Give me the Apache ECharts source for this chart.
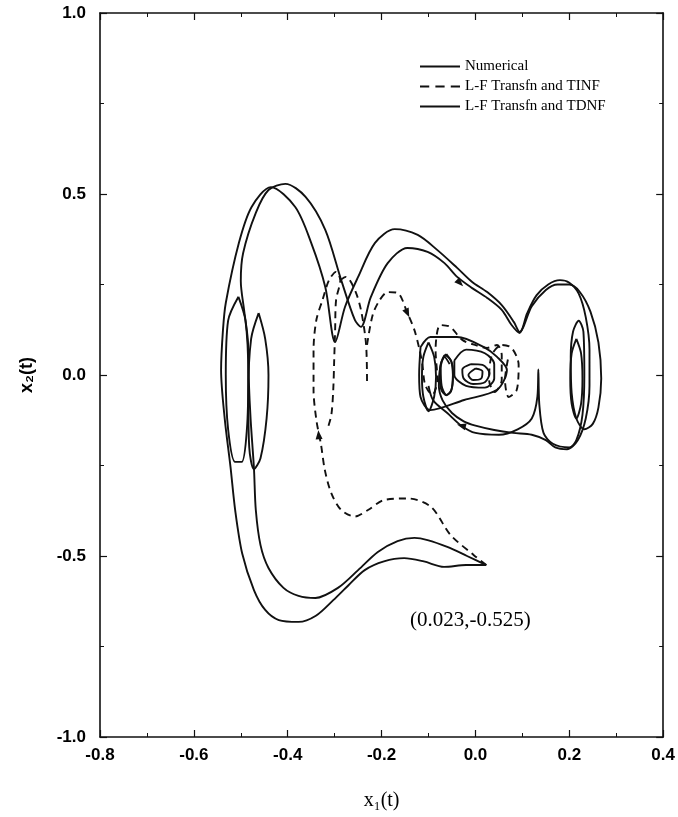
<!DOCTYPE html>
<html><head><meta charset="utf-8">
<script src="https://cdn.jsdelivr.net/npm/echarts@6/dist/echarts.min.js"></script>
<style>html,body{margin:0;padding:0;background:#fff}#c{width:678px;height:817px}</style>
</head><body><div id="c"></div><script>
// ---- tick labels ----
const xTickLabels = ['-0.8','-0.6','-0.4','-0.2','0.0','0.2','0.4'];
const yTickLabels = ['-1.0','-0.5','0.0','0.5','1.0'];
const seriesNames = ['Numerical','L-F Transfn and TINF','L-F Transfn and TDNF'];

// ---- Numerical (solid) ----
const numMain = [[0.023,-0.525],[-0.018,-0.500],[-0.060,-0.475],[-0.102,-0.456],[-0.130,-0.450],[-0.166,-0.459],[-0.208,-0.489],[-0.250,-0.539],[-0.293,-0.588],[-0.341,-0.616],[-0.377,-0.610],[-0.409,-0.588],[-0.441,-0.533],[-0.458,-0.470],[-0.468,-0.373],[-0.472,-0.257],[-0.479,-0.124],[-0.483,-0.014],[-0.485,0.097],[-0.493,0.180],[-0.500,0.260],[-0.495,0.337],[-0.468,0.448],[-0.441,0.511],[-0.405,0.528],[-0.362,0.492],[-0.320,0.401],[-0.286,0.262],[-0.257,0.152],[-0.244,0.133],[-0.223,0.215],[-0.187,0.309],[-0.145,0.351],[-0.102,0.340],[-0.066,0.309],[-0.039,0.271],[-0.007,0.240],[0.025,0.213],[0.056,0.180],[0.077,0.138],[0.094,0.116],[0.110,0.170],[0.130,0.220],[0.155,0.250],[0.180,0.262],[0.200,0.255],[0.220,0.225],[0.235,0.160],[0.243,0.070],[0.243,-0.030],[0.235,-0.120],[0.218,-0.180],[0.195,-0.205],[0.170,-0.200],[0.150,-0.180],[0.120,-0.165],[0.080,-0.160],[0.040,-0.152],[0.000,-0.140],[-0.025,-0.128],[-0.050,-0.105],[-0.070,-0.070],[-0.078,-0.030],[-0.075,0.020],[-0.065,0.055],[-0.052,0.040],[-0.048,0.000],[-0.052,-0.045],[-0.062,-0.055],[-0.072,-0.030],[-0.074,0.020],[-0.066,0.050],[-0.055,0.030]];
const numEllipseLeft1 = [[-0.505,0.216],[-0.490,0.150],[-0.484,0.000],[-0.487,-0.150],[-0.498,-0.240],[-0.512,-0.240],[-0.527,-0.150],[-0.532,0.000],[-0.527,0.150],[-0.505,0.216]];
const numEllipseLeft2 = [[-0.462,0.171],[-0.448,0.100],[-0.441,0.000],[-0.445,-0.120],[-0.458,-0.230],[-0.472,-0.260],[-0.482,-0.200],[-0.484,-0.050],[-0.478,0.100],[-0.462,0.171]];
const numCenterOuter = [[-0.117,0.077],[-0.096,0.105],[-0.039,0.105],[0.018,0.077],[0.046,0.050],[0.067,0.014],[0.046,-0.041],[-0.024,-0.069],[-0.096,-0.097],[-0.117,-0.061],[-0.120,0.000],[-0.117,0.077]];
const numCenterNarrow = [[-0.100,0.090],[-0.088,0.050],[-0.084,-0.005],[-0.088,-0.060],[-0.100,-0.100],[-0.111,-0.060],[-0.114,-0.005],[-0.111,0.050],[-0.100,0.090]];
const numCenterSmall = [[-0.010,0.030],[0.015,0.028],[0.030,0.005],[0.020,-0.020],[-0.005,-0.025],[-0.025,-0.010],[-0.028,0.015],[-0.010,0.030]];
const numCenterTiny = [[0.000,0.018],[0.015,0.010],[0.012,-0.010],[-0.005,-0.014],[-0.015,0.000],[0.000,0.018]];

// ---- L-F Transfn and TINF (dashed) ----
const tinfMain = [[0.023,-0.525],[-0.004,-0.497],[-0.053,-0.442],[-0.095,-0.364],[-0.145,-0.341],[-0.194,-0.345],[-0.229,-0.373],[-0.257,-0.391],[-0.286,-0.373],[-0.307,-0.327],[-0.321,-0.262],[-0.329,-0.193],[-0.339,-0.124],[-0.345,-0.041],[-0.345,0.069],[-0.339,0.152],[-0.326,0.207],[-0.312,0.262],[-0.297,0.285],[-0.288,0.262],[-0.297,0.207],[-0.299,0.124],[-0.301,0.041],[-0.303,-0.041],[-0.307,-0.110],[-0.314,-0.144]];
const tinfPeak2 = [[-0.288,0.262],[-0.276,0.271],[-0.257,0.235],[-0.244,0.180],[-0.233,0.083],[-0.231,-0.028]];
const tinfToCenter = [[-0.231,0.083],[-0.219,0.166],[-0.204,0.207],[-0.187,0.229],[-0.166,0.227],[-0.145,0.171],[-0.130,0.124],[-0.119,0.069],[-0.113,0.028],[-0.107,-0.028],[-0.092,-0.055],[-0.081,-0.014],[-0.085,0.069],[-0.075,0.138],[-0.054,0.133],[-0.028,0.097],[-0.001,0.083],[0.025,0.075],[0.046,0.083],[0.056,0.055],[0.056,-0.014],[0.041,-0.047],[0.029,-0.014],[0.035,0.055],[0.056,0.083],[0.077,0.075],[0.092,0.028],[0.088,-0.041],[0.071,-0.061],[0.063,-0.014],[0.071,0.055]];

// ---- L-F Transfn and TDNF (solid) ----
const tdnfMain = [[0.023,-0.525],[-0.020,-0.525],[-0.067,-0.530],[-0.110,-0.515],[-0.152,-0.506],[-0.195,-0.515],[-0.236,-0.539],[-0.270,-0.580],[-0.303,-0.622],[-0.340,-0.665],[-0.377,-0.682],[-0.419,-0.677],[-0.448,-0.649],[-0.472,-0.594],[-0.497,-0.493],[-0.512,-0.373],[-0.522,-0.253],[-0.534,-0.124],[-0.542,0.014],[-0.538,0.124],[-0.532,0.199],[-0.504,0.365],[-0.477,0.464],[-0.436,0.519],[-0.384,0.464],[-0.350,0.365],[-0.320,0.243],[-0.299,0.091],[-0.278,0.188],[-0.250,0.271],[-0.214,0.365],[-0.172,0.403],[-0.123,0.387],[-0.081,0.345],[-0.039,0.296],[-0.007,0.257],[0.025,0.229],[0.056,0.193],[0.082,0.146],[0.094,0.119],[0.120,0.190],[0.150,0.235],[0.175,0.250],[0.200,0.250],[0.222,0.230],[0.245,0.175],[0.262,0.090],[0.268,-0.010],[0.262,-0.090],[0.250,-0.135],[0.232,-0.150],[0.215,-0.120],[0.205,-0.050],[0.203,0.050],[0.208,0.120],[0.220,0.150],[0.230,0.120],[0.232,0.000],[0.228,-0.110],[0.215,-0.180],[0.200,-0.200],[0.165,-0.190],[0.145,-0.160],[0.136,-0.080],[0.134,0.015],[0.132,-0.060],[0.120,-0.120],[0.090,-0.150],[0.050,-0.165],[0.000,-0.160],[-0.030,-0.140],[-0.060,-0.105],[-0.090,-0.070],[-0.100,-0.030]];
const tdnfRightInner = [[0.215,0.100],[0.225,0.060],[0.228,-0.010],[0.225,-0.080],[0.215,-0.120],[0.205,-0.080],[0.202,-0.010],[0.205,0.060],[0.215,0.100]];
const tdnfCenterThick = [[-0.062,0.058],[-0.051,0.035],[-0.048,0.000],[-0.051,-0.040],[-0.062,-0.056],[-0.073,-0.040],[-0.076,0.000],[-0.073,0.035],[-0.062,0.058]];
const tdnfCenterLoop = [[-0.045,0.040],[-0.020,0.070],[0.020,0.060],[0.040,0.030],[0.040,-0.010],[0.020,-0.035],[-0.020,-0.030],[-0.045,0.000],[-0.045,0.040]];

// ---- arrow positions (data coords) and headings ----
const arrows = [
  {coord:[-0.033,0.254], rot:-135},
  {coord:[-0.145,0.171], rot:-155},
  {coord:[-0.030,-0.140], rot:75},
  {coord:[-0.334,-0.165], rot:5}
];

const INK = '#111';
const solidIcon = 'path://M0 0H40V2H0Z';
const dashIcon = 'path://M0 0H9V2H0Z M15 0H24V2H15Z M30 0H39V2H30Z';

function seg(name, data, dashed, extra) {
  return Object.assign({
    name: name, type: 'line', data: data, smooth: 0.3, symbol: 'none',
    showSymbol: false, animation: false, silent: true,
    lineStyle: {color: INK, width: 1.9, type: dashed ? [7,5] : 'solid'},
    itemStyle: {color: INK}
  }, extra || {});
}
function arrowMarks(list) {
  return {symbol:'triangle', symbolSize:[7,9], silent:true, label:{show:false},
    itemStyle:{color:INK}, data: list.map(a=>({coord:a.coord, symbolRotate:a.rot}))};
}

const series = [
  seg(seriesNames[0], numMain, false, {markPoint: arrowMarks([arrows[0], arrows[2]])}),
  seg(seriesNames[1], tinfMain, true, {markPoint: arrowMarks([arrows[1], arrows[3]])}),
  seg(seriesNames[2], tdnfMain, false),
  seg(seriesNames[0], numEllipseLeft1, false),
  seg(seriesNames[0], numEllipseLeft2, false),
  seg(seriesNames[0], numCenterOuter, false),
  seg(seriesNames[0], numCenterNarrow, false),
  seg(seriesNames[0], numCenterSmall, false),
  seg(seriesNames[0], numCenterTiny, false),
  seg(seriesNames[1], tinfPeak2, true),
  seg(seriesNames[1], tinfToCenter, true),
  seg(seriesNames[2], tdnfRightInner, false),
  seg(seriesNames[2], tdnfCenterThick, false),
  seg(seriesNames[2], tdnfCenterLoop, false)
];

const axisLineStyle = {show:true, onZero:false, lineStyle:{color:INK, width:1.6}};
const tickStyle = {show:true, inside:true, length:7, lineStyle:{color:INK, width:1.2}};
const minorStyle = {show:true, splitNumber:2, length:4, lineStyle:{color:INK, width:1}};
const labelFont = {color:'#000', fontFamily:'Liberation Sans, Arial, sans-serif', fontWeight:'bold', fontSize:17};

const chart = echarts.init(document.getElementById('c'), null, {renderer:'canvas'});
chart.setOption({
  backgroundColor: '#fff',
  animation: false,
  grid: {left:100, right:10, top:13, bottom:80},
  legend: {
    data: [
      {name: seriesNames[0], icon: solidIcon},
      {name: seriesNames[1], icon: dashIcon},
      {name: seriesNames[2], icon: solidIcon}
    ],
    orient:'vertical', left:415, top:54,
    itemWidth:40, itemHeight:14, itemGap:5, selectedMode:false,
    itemStyle:{color:INK, borderWidth:0},
    textStyle:{color:'#000', fontFamily:'Liberation Serif, Times New Roman, serif', fontSize:15}
  },
  xAxis: [{
    type:'value', min:-0.8, max:0.4, interval:0.2, position:'bottom',
    axisLine: axisLineStyle, axisTick: tickStyle, minorTick: minorStyle,
    splitLine:{show:false}, minorSplitLine:{show:false},
    axisLabel: Object.assign({margin:10, formatter: v => xTickLabels[Math.round((v+0.8)/0.2)]}, labelFont),
    name:'x\u2081(t)', nameLocation:'middle', nameGap:54,
    nameTextStyle:{color:'#000', fontFamily:'Liberation Serif, Times New Roman, serif', fontSize:20}
  },{
    type:'value', min:-0.8, max:0.4, interval:0.2, position:'top',
    axisLine: axisLineStyle, axisTick: tickStyle, minorTick: minorStyle,
    splitLine:{show:false}, axisLabel:{show:false}
  }],
  yAxis: [{
    type:'value', min:-1, max:1, interval:0.5, position:'left',
    axisLine: axisLineStyle, axisTick: tickStyle, minorTick: minorStyle,
    splitLine:{show:false}, minorSplitLine:{show:false},
    axisLabel: Object.assign({margin:14, formatter: v => yTickLabels[Math.round((v+1)/0.5)]}, labelFont),
    name:'x\u2082(t)', nameLocation:'middle', nameGap:64, nameRotate:90,
    nameTextStyle:{color:'#000', fontFamily:'Liberation Sans, Arial, sans-serif', fontWeight:'bold', fontSize:18}
  },{
    type:'value', min:-1, max:1, interval:0.5, position:'right',
    axisLine: axisLineStyle, axisTick: tickStyle, minorTick: minorStyle,
    splitLine:{show:false}, axisLabel:{show:false}
  }],
  graphic: [{
    type:'text', left:410, top:610, silent:true,
    style:{text:'(0.023,-0.525)', fill:'#000', font:'21px "Liberation Serif", "Times New Roman", serif'}
  }],
  series: series
});
</script></body></html>
